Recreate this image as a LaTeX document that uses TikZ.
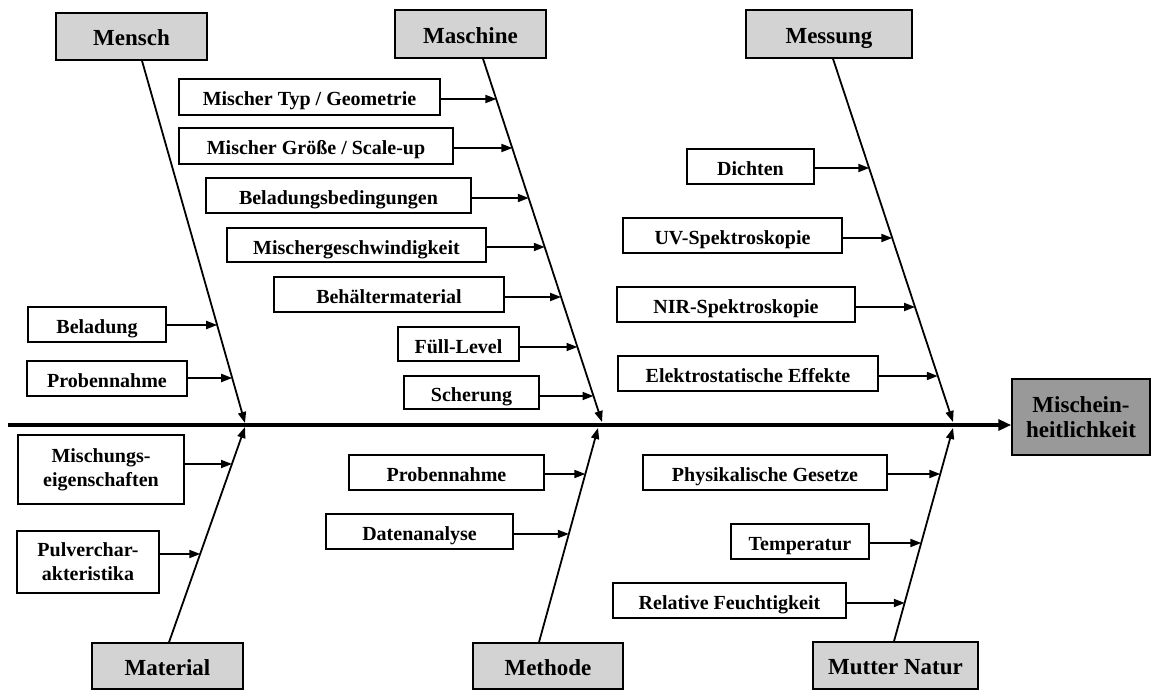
\documentclass[tikz,border=0pt]{standalone}
\usepackage{fontspec}
\setmainfont{Liberation Serif}
\usetikzlibrary{arrows.meta}

\definecolor{catfill}{RGB}{211,211,211}
\definecolor{effectfill}{RGB}{153,153,153}

\begin{document}
\begin{tikzpicture}[x=1pt,y=-1pt,
  catbox/.style={draw=black,line width=1.5pt,fill=catfill,inner sep=0pt,
    text height=18.4pt,text depth=0pt,
    font=\fontsize{23}{26}\selectfont\bfseries},
  causebox/.style={draw=black,line width=1.3pt,fill=white,inner sep=0pt,align=center,
    font=\fontsize{20}{24}\selectfont\bfseries},
  oneline/.style={text height=18pt,text depth=0pt},
  effectbox/.style={draw=black,line width=1.5pt,fill=effectfill,inner sep=0pt,align=center,
    font=\fontsize{23}{25}\selectfont\bfseries},
  bone/.style={line width=1.8pt,-{Triangle[length=11pt,width=8pt]}},
  cause/.style={line width=1.8pt,-{Triangle[length=11pt,width=8pt]}},
  spine/.style={line width=3.5pt,-{Triangle[length=13pt,width=11pt]}}
]
\useasboundingbox (0,0) rectangle (1152,690);

% effect and main spine
\node[effectbox,minimum width=138,minimum height=76] (head) at (1081,417) {Mischein-\\heitlichkeit};
\coordinate (s0) at (8,425);
\draw[spine] (s0) -- (s0 -| head.west);

% category boxes
\node[catbox,minimum width=151,minimum height=47] (mensch)   at (131.5,36.5) {Mensch};
\node[catbox,minimum width=151,minimum height=48] (maschine) at (470.5,34)   {Maschine};
\node[catbox,minimum width=166,minimum height=48] (messung)  at (829,34)     {Messung};
\node[catbox,minimum width=151,minimum height=46] (material) at (167.5,666)  {Material};
\node[catbox,minimum width=150,minimum height=46] (methode)  at (548,666)    {Methode};
\node[catbox,minimum width=165,minimum height=47] (mutter)   at (895.5,665.5){Mutter Natur};

% bone ends on the boxes and on the spine
\coordinate (b1) at (mensch.south -| 142,0);   \coordinate (j1) at (245,423);
\coordinate (b2) at (material.north -| 169,0); \coordinate (j2) at (245,427);
\coordinate (b3) at (maschine.south -| 483,0); \coordinate (j3) at (602,422);
\coordinate (b4) at (methode.north -| 539,0);  \coordinate (j4) at (598,428);
\coordinate (b5) at (messung.south -| 833,0);  \coordinate (j5) at (953,422);
\coordinate (b6) at (mutter.north -| 894,0);   \coordinate (j6) at (953,428);

\draw[bone] (b1) -- (j1);
\draw[bone] (b2) -- (j2);
\draw[bone] (b3) -- (j3);
\draw[bone] (b4) -- (j4);
\draw[bone] (b5) -- (j5);
\draw[bone] (b6) -- (j6);

% Mensch
\node[causebox,oneline,minimum width=138,minimum height=35] (beladung) at (97,324.5) {Beladung};
\node[causebox,oneline,minimum width=160,minimum height=35] (probe1)   at (107,378.5) {Probennahme};
\coordinate (t-beladung) at (217.2,325);
\coordinate (t-probe1)   at (232.2,378);

% Material
\node[causebox,minimum width=166,minimum height=69] (mischeig) at (101,469.5) {Mischungs-\\eigenschaften};
\node[causebox,minimum width=142,minimum height=62] (pulver)   at (88,562)    {Pulverchar-\\akteristika};
\coordinate (t-mischeig) at (232,464);
\coordinate (t-pulver)   at (200.3,554);

% Maschine
\node[causebox,oneline,minimum width=261,minimum height=36] (typ)       at (309.5,97)  {Mischer Typ / Geometrie};
\node[causebox,oneline,minimum width=274,minimum height=36] (groesse)   at (316,146)   {Mischer Größe / Scale-up};
\node[causebox,oneline,minimum width=265,minimum height=35] (bedingung) at (338.5,195.5) {Beladungsbedingungen};
\node[causebox,oneline,minimum width=259,minimum height=34] (geschw)    at (356.5,245) {Mischergeschwindigkeit};
\node[causebox,oneline,minimum width=230,minimum height=35] (behaelter) at (389,294.5) {Behältermaterial};
\node[causebox,oneline,minimum width=121,minimum height=34] (fuell)     at (458.5,344) {Füll-Level};
\node[causebox,oneline,minimum width=135,minimum height=33] (scherung)  at (471.5,392.5) {Scherung};
\coordinate (t-typ)       at (496.4,99);
\coordinate (t-groesse)   at (512.4,148);
\coordinate (t-bedingung) at (528.8,198);
\coordinate (t-geschw)    at (544.8,247);
\coordinate (t-behaelter) at (561.1,297);
\coordinate (t-fuell)     at (577.5,347);
\coordinate (t-scherung)  at (593.5,396);

% Methode
\node[causebox,oneline,minimum width=195,minimum height=35] (probe2) at (446.5,472.5) {Probennahme};
\node[causebox,oneline,minimum width=187,minimum height=35] (daten)  at (419.5,531.5) {Datenanalyse};
\coordinate (t-probe2) at (585.4,474);
\coordinate (t-daten)  at (568.9,534);

% Messung
\node[causebox,oneline,minimum width=127,minimum height=35] (dichten) at (750.5,166.5) {Dichten};
\node[causebox,oneline,minimum width=219,minimum height=35] (uv)      at (732.5,235.5) {UV-Spektroskopie};
\node[causebox,oneline,minimum width=238,minimum height=35] (nir)     at (736,304.5)   {NIR-Spektroskopie};
\node[causebox,oneline,minimum width=260,minimum height=35] (elektro) at (748,373.5)   {Elektrostatische Effekte};
\coordinate (t-dichten) at (869.3,168);
\coordinate (t-uv)      at (892.3,238);
\coordinate (t-nir)     at (915.1,307);
\coordinate (t-elektro) at (937.8,376);

% Mutter Natur
\node[causebox,oneline,minimum width=244,minimum height=35] (physik) at (765,472.5)   {Physikalische Gesetze};
\node[causebox,oneline,minimum width=138,minimum height=35] (temp)   at (800,541.5)   {Temperatur};
\node[causebox,oneline,minimum width=233,minimum height=35] (feucht) at (729.5,600.5) {Relative Feuchtigkeit};
\coordinate (t-physik) at (940.3,474);
\coordinate (t-temp)   at (921.3,543);
\coordinate (t-feucht) at (904.8,603);

% cause arrows onto the bones
\foreach \c in {beladung,probe1,mischeig,pulver,typ,groesse,bedingung,geschw,
                behaelter,fuell,scherung,probe2,daten,dichten,uv,nir,elektro,
                physik,temp,feucht}
  \draw[cause] (\c.east |- t-\c) -- (t-\c);
\end{tikzpicture}
\end{document}
